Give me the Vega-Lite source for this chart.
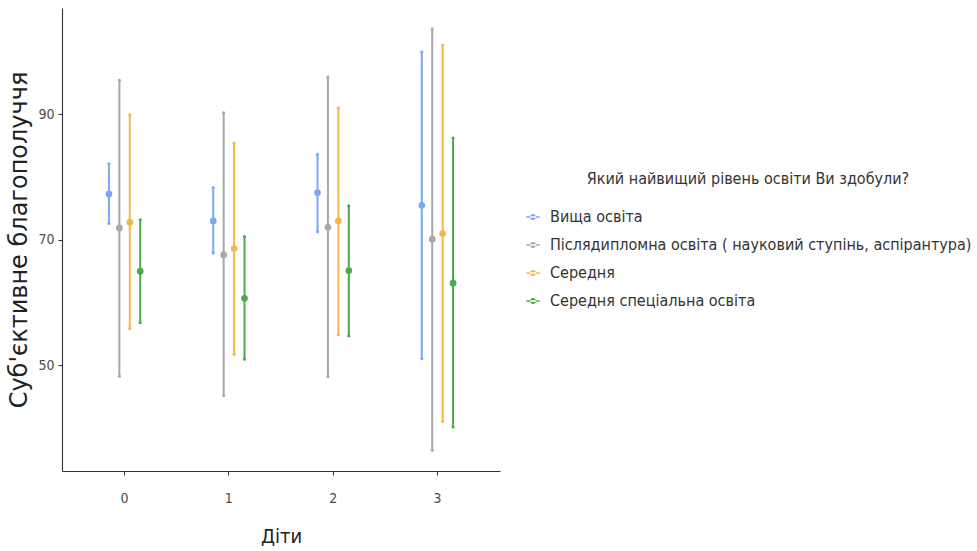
{
  "$schema": "https://vega.github.io/schema/vega-lite/v6.json",
  "autosize": {"type": "none"},
  "padding": {"left": 62, "top": 8, "right": 477, "bottom": 80},
  "width": 438,
  "height": 463,
  "background": "white",
  "config": {
    "view": {"stroke": null},
    "axis": {
      "grid": false,
      "domainColor": "#333333",
      "domainWidth": 1.1,
      "tickColor": "#333333",
      "tickWidth": 1.1,
      "tickSize": 4,
      "labelFont": "DejaVu Sans Condensed, Liberation Sans, sans-serif",
      "labelFontSize": 14,
      "labelColor": "#4d4d4d",
      "titleFontWeight": "normal",
      "titleColor": "#222222"
    }
  },
  "data": {
    "values": [
      {"kids": "0", "edu": "Вища освіта", "mean": 77.3, "lo": 72.6, "hi": 82.1},
      {"kids": "0", "edu": "Післядипломна освіта ( науковий ступінь, аспірантура)", "mean": 71.9, "lo": 48.3, "hi": 95.4},
      {"kids": "0", "edu": "Середня", "mean": 72.8, "lo": 55.9, "hi": 89.9},
      {"kids": "0", "edu": "Середня спеціальна освіта", "mean": 65.0, "lo": 56.8, "hi": 73.2},
      {"kids": "1", "edu": "Вища освіта", "mean": 73.0, "lo": 67.9, "hi": 78.3},
      {"kids": "1", "edu": "Післядипломна освіта ( науковий ступінь, аспірантура)", "mean": 67.6, "lo": 45.2, "hi": 90.2},
      {"kids": "1", "edu": "Середня", "mean": 68.6, "lo": 51.8, "hi": 85.4},
      {"kids": "1", "edu": "Середня спеціальна освіта", "mean": 60.7, "lo": 51.0, "hi": 70.5},
      {"kids": "2", "edu": "Вища освіта", "mean": 77.5, "lo": 71.3, "hi": 83.6},
      {"kids": "2", "edu": "Післядипломна освіта ( науковий ступінь, аспірантура)", "mean": 72.0, "lo": 48.2, "hi": 95.9},
      {"kids": "2", "edu": "Середня", "mean": 73.0, "lo": 54.9, "hi": 91.0},
      {"kids": "2", "edu": "Середня спеціальна освіта", "mean": 65.1, "lo": 54.7, "hi": 75.4},
      {"kids": "3", "edu": "Вища освіта", "mean": 75.5, "lo": 51.1, "hi": 99.9},
      {"kids": "3", "edu": "Післядипломна освіта ( науковий ступінь, аспірантура)", "mean": 70.1, "lo": 36.5, "hi": 103.6},
      {"kids": "3", "edu": "Середня", "mean": 71.0, "lo": 41.1, "hi": 101.0},
      {"kids": "3", "edu": "Середня спеціальна освіта", "mean": 63.1, "lo": 40.2, "hi": 86.2}
    ]
  },
  "encoding": {
    "x": {
      "field": "kids",
      "type": "nominal",
      "scale": {"paddingInner": 0, "paddingOuter": 0.1},
      "axis": {
        "labelAngle": 0,
        "labelPadding": 16,
        "title": "Діти",
        "titleFont": "DejaVu Sans Condensed, Liberation Sans, sans-serif",
        "titleFontSize": 20,
        "titlePadding": 21
      }
    },
    "xOffset": {
      "field": "edu",
      "type": "nominal",
      "scale": {"range": [31.3, 73.0], "paddingInner": 0, "paddingOuter": 0}
    },
    "color": {
      "field": "edu",
      "type": "nominal",
      "scale": {
        "domain": [
          "Вища освіта",
          "Післядипломна освіта ( науковий ступінь, аспірантура)",
          "Середня",
          "Середня спеціальна освіта"
        ],
        "range": ["#7aa9f2", "#a8a8a8", "#f3b74e", "#4caa4c"]
      },
      "legend": {
        "title": "Який найвищий рівень освіти Ви здобули?",
        "orient": "none",
        "legendX": 463,
        "legendY": 163,
        "titleAnchor": "middle",
        "titleLimit": 600,
        "titleFont": "DejaVu Sans Condensed, Liberation Sans, sans-serif",
        "titleFontSize": 16,
        "titleFontWeight": "normal",
        "titleColor": "#333333",
        "titlePadding": 22,
        "labelFont": "DejaVu Sans Condensed, Liberation Sans, sans-serif",
        "labelFontSize": 16,
        "labelColor": "#333333",
        "labelLimit": 600,
        "labelOffset": 9,
        "rowPadding": 12,
        "symbolType": "M-1,-0.13H1V0.13H-1Z M-0.45,0 A0.45,0.45 0 1,0 0.45,0 A0.45,0.45 0 1,0 -0.45,0Z",
        "symbolSize": 180,
        "encode": {
          "symbols": {
            "update": {
              "fill": {"scale": "color", "field": "value"},
              "stroke": {"value": "transparent"},
              "strokeWidth": {"value": 0},
              "opacity": {"value": 1}
            }
          }
        }
      }
    }
  },
  "layer": [
    {
      "mark": {"type": "rule", "strokeWidth": 2},
      "encoding": {
        "y": {
          "field": "lo",
          "type": "quantitative",
          "scale": {"domain": [33.2, 106.9], "nice": false, "zero": false},
          "axis": {
            "values": [50, 70, 90],
            "title": "Суб'єктивне благополуччя",
            "titleFont": "DejaVu Sans",
            "titleFontSize": 24,
            "titlePadding": 6,
            "labelPadding": 4
          }
        },
        "y2": {"field": "hi"}
      }
    },
    {
      "mark": {"type": "point", "filled": true, "size": 10, "opacity": 1},
      "encoding": {"y": {"field": "lo", "type": "quantitative"}}
    },
    {
      "mark": {"type": "point", "filled": true, "size": 10, "opacity": 1},
      "encoding": {"y": {"field": "hi", "type": "quantitative"}}
    },
    {
      "mark": {"type": "point", "filled": true, "size": 45, "opacity": 1},
      "encoding": {"y": {"field": "mean", "type": "quantitative"}}
    }
  ]
}
